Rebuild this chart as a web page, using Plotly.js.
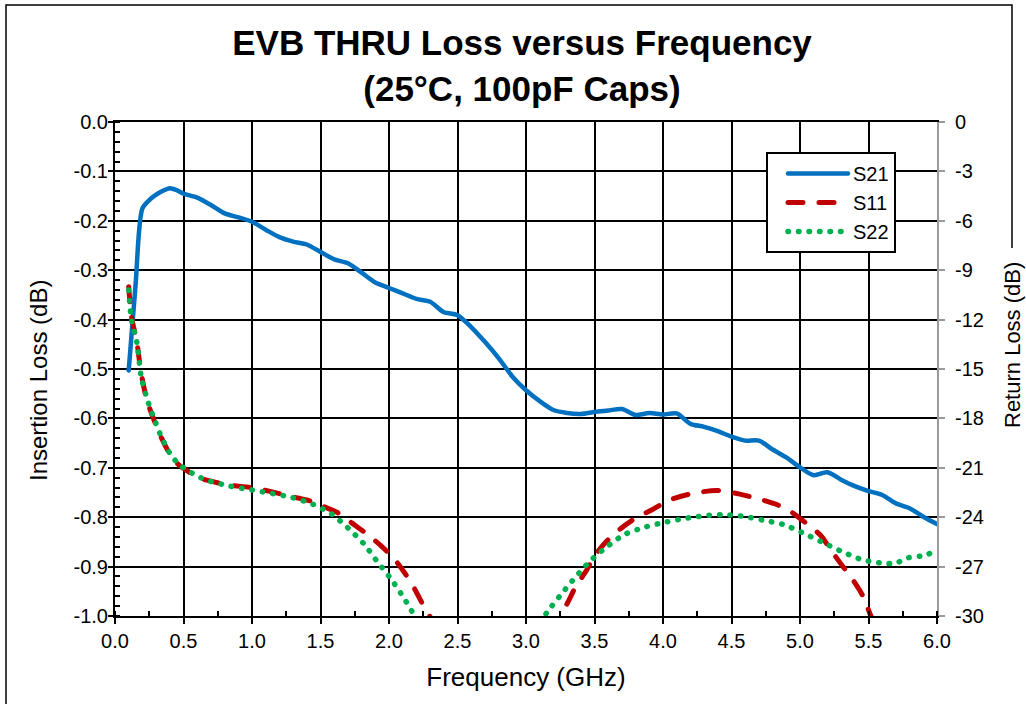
<!DOCTYPE html>
<html>
<head>
<meta charset="utf-8">
<script src="https://cdn.plot.ly/plotly-3.0.1.min.js"></script>
<style>
  html, body { margin: 0; padding: 0; background: #fff; }
  #chart { width: 1026px; height: 704px; }
</style>
</head>
<body>
<div id="chart"></div>
<script>
// ---- Data ----
const s21Freq = [0.10, 0.15, 0.20, 0.25, 0.30, 0.35, 0.40, 0.45, 0.50, 0.60, 0.70, 0.80, 0.90, 1.00,
  1.10, 1.20, 1.30, 1.40, 1.50, 1.60, 1.70, 1.80, 1.90, 2.00, 2.10, 2.20, 2.30, 2.40, 2.50,
  2.60, 2.70, 2.80, 2.90, 3.00, 3.10, 3.20, 3.30, 3.40, 3.50, 3.60, 3.70, 3.80, 3.90, 4.00,
  4.10, 4.20, 4.30, 4.40, 4.50, 4.60, 4.70, 4.80, 4.90, 5.00, 5.10, 5.20, 5.30, 5.40, 5.50,
  5.60, 5.70, 5.80, 5.90, 6.00];
const s21 = [-0.503, -0.330, -0.175, -0.158, -0.147, -0.139, -0.134, -0.138, -0.145, -0.153, -0.168,
  -0.185, -0.193, -0.202, -0.218, -0.233, -0.242, -0.248, -0.263, -0.278, -0.286, -0.305, -0.325,
  -0.336, -0.347, -0.358, -0.364, -0.385, -0.391, -0.415, -0.445, -0.478, -0.515, -0.543, -0.565,
  -0.583, -0.589, -0.591, -0.587, -0.584, -0.581, -0.593, -0.589, -0.592, -0.590, -0.611, -0.617,
  -0.626, -0.637, -0.645, -0.645, -0.663, -0.679, -0.699, -0.715, -0.709, -0.724, -0.737, -0.747,
  -0.755, -0.772, -0.782, -0.799, -0.814];

const s11Freq = [0.10, 0.12, 0.16, 0.19, 0.23, 0.28, 0.34, 0.41, 0.47, 0.54, 0.60, 0.67, 0.83, 1.00,
  1.14, 1.29, 1.44, 1.55, 1.62, 1.73, 1.84, 1.95, 2.03, 2.12, 2.19, 2.25, 2.31, 2.35, 2.80,
  3.20, 3.25, 3.31, 3.36, 3.44, 3.50, 3.59, 3.69, 3.81, 3.92, 4.05, 4.22, 4.40, 4.56, 4.68,
  4.82, 4.93, 5.05, 5.15, 5.23, 5.30, 5.39, 5.46, 5.51, 5.55];
const s11 = [-10.0, -11.8, -13.4, -15.2, -16.8, -18.0, -19.2, -20.3, -20.85, -21.25, -21.55, -21.75,
  -22.05, -22.2, -22.45, -22.75, -23.05, -23.45, -23.7, -24.36, -25.03, -25.8, -26.45, -27.45,
  -28.4, -29.35, -30.2, -31.0, null,
  -31.0, -30.0, -29.1, -28.25, -27.25, -26.35, -25.45, -24.7, -24.0, -23.55, -22.95, -22.55,
  -22.38, -22.6, -22.85, -23.2, -23.65, -24.4, -25.1, -26.05, -26.85, -27.85, -28.8, -29.85, -30.6];

const s22Freq = [0.10, 0.12, 0.16, 0.19, 0.23, 0.28, 0.34, 0.41, 0.47, 0.54, 0.60, 0.67, 0.83, 1.00,
  1.14, 1.29, 1.44, 1.58, 1.70, 1.82, 1.91, 2.01, 2.10, 2.18, 2.22, 2.70,
  3.10, 3.16, 3.26, 3.36, 3.47, 3.59, 3.72, 3.87, 4.02, 4.18, 4.34, 4.45, 4.57, 4.73, 4.88,
  5.02, 5.17, 5.31, 5.46, 5.62, 5.70, 5.77, 5.92, 6.00];
const s22 = [-10.2, -12.0, -13.4, -15.4, -16.7, -17.9, -19.15, -20.25, -20.8, -21.2, -21.5, -21.75,
  -22.1, -22.35, -22.55, -22.8, -23.2, -23.8, -24.65, -25.65, -26.65, -27.7, -28.8, -29.9, -30.6, null,
  -30.4, -29.7, -28.65, -27.65, -26.65, -25.8, -25.05, -24.6, -24.3, -24.05, -23.88, -23.85,
  -23.93, -24.18, -24.45, -24.95, -25.55, -26.1, -26.6, -26.8, -26.8, -26.5, -26.3, -25.95];

const xTickVals = [0, 0.5, 1, 1.5, 2, 2.5, 3, 3.5, 4, 4.5, 5, 5.5, 6];
const xTickText = ['0.0', '0.5', '1.0', '1.5', '2.0', '2.5', '3.0', '3.5', '4.0', '4.5', '5.0', '5.5', '6.0'];
const yTickVals = [0, -0.1, -0.2, -0.3, -0.4, -0.5, -0.6, -0.7, -0.8, -0.9, -1.0];
const yTickText = ['0.0', '-0.1', '-0.2', '-0.3', '-0.4', '-0.5', '-0.6', '-0.7', '-0.8', '-0.9', '-1.0'];
const y2TickVals = [0, -3, -6, -9, -12, -15, -18, -21, -24, -27, -30];
const y2TickText = ['0', '-3', '-6', '-9', '-12', '-15', '-18', '-21', '-24', '-27', '-30'];

// ---- Styling ----
const FONT = 'Liberation Sans, Arial, Helvetica, sans-serif';
const BLUE = '#0070C0', RED = '#C00000', GREEN = '#00B050';

const data = [
  { x: s21Freq, y: s21, name: 'S21', type: 'scatter', mode: 'lines', yaxis: 'y',
    line: { color: BLUE, width: 4.5, shape: 'spline', smoothing: 0.8 } },
  { x: s11Freq, y: s11, name: 'S11', type: 'scatter', mode: 'lines', yaxis: 'y2',
    line: { color: RED, width: 5, dash: '15px,16px', shape: 'spline', smoothing: 0.8 } },
  { x: s22Freq, y: s22, name: 'S22', type: 'scatter', mode: 'lines', yaxis: 'y2',
    line: { color: GREEN, width: 5.5, dash: '0.5px,10px', shape: 'spline', smoothing: 0.8 } }
];

// plot area in pixels: left 115, right 937, top 122, bottom 616
const L = 115, R = 937, T = 122, B = 616;
const px = v => (v - L) / (R - L);
const py = v => (B - v) / (B - T);

const layout = {
  width: 1026, height: 704,
  margin: { l: L, r: 1026 - R, t: T, b: 704 - B, pad: 0 },
  paper_bgcolor: '#fff', plot_bgcolor: '#fff',
  font: { family: FONT, size: 20, color: '#000' },
  showlegend: true,
  title: {
    text: 'EVB THRU Loss versus Frequency<br>(25°C, 100pF Caps)',
    font: { family: FONT, size: 35, weight: 'bold', color: '#000' },
    x: 522 / 1026, xanchor: 'center', xref: 'container',
    y: 1 - 55 / 704, yanchor: 'top', yref: 'container'
  },
  xaxis: {
    range: [0, 6], tickvals: xTickVals, ticktext: xTickText,
    showgrid: true, gridcolor: '#000', gridwidth: 2,
    showline: true, linecolor: '#000', linewidth: 2, mirror: true,
    ticks: 'outside', ticklen: 6, tickwidth: 2, tickcolor: '#000',
    minor: { dtick: 0.25, tick0: 0, ticks: 'inside', ticklen: 5, tickwidth: 2, tickcolor: '#000', showgrid: false },
    zeroline: false, fixedrange: true,
    tickfont: { family: FONT, size: 20 },
    title: { text: 'Frequency (GHz)', font: { family: FONT, size: 26 }, standoff: 17 }
  },
  yaxis: {
    range: [-1, 0], tickvals: yTickVals, ticktext: yTickText,
    showgrid: true, gridcolor: '#000', gridwidth: 2,
    showline: true, linecolor: '#000', linewidth: 2,
    ticks: 'outside', ticklen: 5, tickwidth: 2, tickcolor: '#000',
    ticklabelstandoff: -4,
    minor: { dtick: 0.02, tick0: 0, ticks: 'inside', ticklen: 5, tickwidth: 2, tickcolor: '#000', showgrid: false },
    zeroline: false, fixedrange: true,
    tickfont: { family: FONT, size: 20 }
  },
  yaxis2: {
    overlaying: 'y', side: 'right',
    range: [-30, 0], tickvals: y2TickVals, ticktext: y2TickText,
    showgrid: false, showline: true, linecolor: '#9a9a9a', linewidth: 2,
    ticks: 'outside', ticklen: 6, tickwidth: 2, tickcolor: '#9a9a9a',
    ticklabelstandoff: 6,
    zeroline: false, fixedrange: true,
    tickfont: { family: FONT, size: 20 }
  },
  annotations: [
    { text: 'Insertion Loss (dB)', textangle: -90, showarrow: false,
      xref: 'paper', yref: 'paper', x: px(38), y: py(381), xanchor: 'center', yanchor: 'middle',
      font: { family: FONT, size: 24, color: '#000' } },
    { text: 'Return Loss (dB)', textangle: -90, showarrow: false,
      xref: 'paper', yref: 'paper', x: px(1012), y: py(345), xanchor: 'center', yanchor: 'middle',
      font: { family: FONT, size: 22, color: '#000' } }
  ],
  legend: {
    x: px(766), y: py(152), xanchor: 'left', yanchor: 'top',
    bgcolor: '#fff', bordercolor: '#000', borderwidth: 2,
    font: { family: FONT, size: 20 }, itemwidth: 60, indentation: 15,
    tracegroupgap: 0, traceorder: 'normal'
  },
  shapes: [
    { type: 'path', xref: 'paper', yref: 'paper', layer: 'above',
      path: 'M ' + px(6) + ' ' + py(720) + ' L ' + px(6) + ' ' + py(5) + ' L ' + px(1012) + ' ' + py(5) + ' L ' + px(1012) + ' ' + py(248),
      line: { color: '#000', width: 1.5 } }
  ]
};

Plotly.newPlot('chart', data, layout, { staticPlot: true, displayModeBar: false }).then(gd => {
  gd.querySelectorAll('path.js-line').forEach(p => {
    p.style.strokeLinecap = 'round';
    p.style.strokeLinejoin = 'round';
  });
});
</script>
</body>
</html>
